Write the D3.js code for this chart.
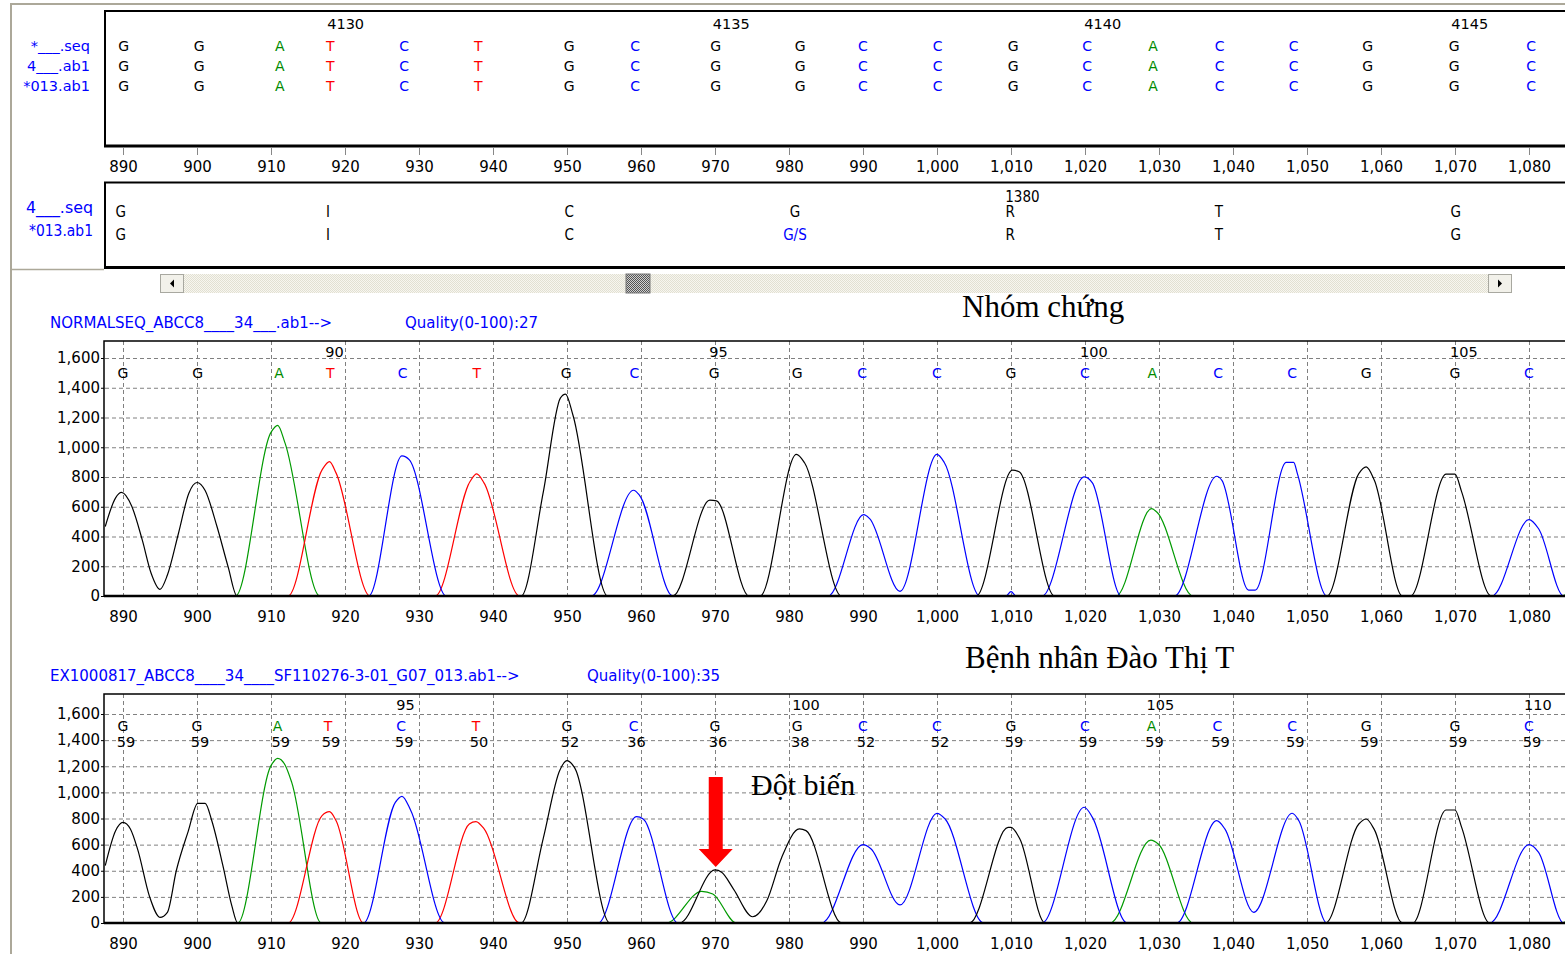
<!DOCTYPE html>
<html>
<head>
<meta charset="utf-8">
<script src="https://cdn.jsdelivr.net/npm/d3@7"></script>
<style>
  html, body { margin: 0; padding: 0; background: #fff; }
  svg { display: block; }
</style>
</head>
<body>
<svg id="chart" width="1565" height="954" font-family="'DejaVu Sans', Verdana, sans-serif"></svg>
<script>
// scan axis ticks
const scanTicks = [890, 900, 910, 920, 930, 940, 950, 960, 970, 980, 990,
  1000, 1010, 1020, 1030, 1040, 1050, 1060, 1070, 1080]
// signal axis ticks
const signalTicks = [0, 200, 400, 600, 800, 1000, 1200, 1400, 1600]

// called bases (same for all three sequences shown)
const bases = ['G', 'G', 'A', 'T', 'C', 'T', 'G', 'C', 'G', 'G',
  'C', 'C', 'G', 'C', 'A', 'C', 'C', 'G', 'G', 'C']

// top alignment panel
const topRowLabels = ['*___.seq', '4___.ab1', '*013.ab1']
const topCallPos = [890.1, 900.3, 911.2, 918, 928, 938, 950.3, 959.2, 970.1, 981.5,
  990, 1000.1, 1010.3, 1020.3, 1029.2, 1038.2, 1048.2, 1058.2, 1069.9, 1080.3]
const topNumbers = [4130, 4135, 4140, 4145]
const topNumberIdx = [3, 8, 13, 18]

// middle alignment panel
const midRowLabels = ['4___.seq', '*013.ab1']
const midPos = [889.7, 917.7, 950.3, 980.8, 1009.9, 1038.1, 1070.1]
const midRow1 = ['G', 'I', 'C', 'G', 'R', 'T', 'G']
const midRow2 = ['G', 'I', 'C', 'G/S', 'R', 'T', 'G']
const midNumber = 1380
const midNumberIdx = 4

// chromatogram 1 : control
const normHeader = 'NORMALSEQ_ABCC8____34___.ab1-->'
const normQuality = 'Quality(0-100):27'
const normTitle = 'Nhóm chứng'
const normCallPos = [890, 900.1, 911.1, 918, 927.8, 937.8, 949.9, 959.1, 969.9, 981.1,
  989.9, 1000, 1010, 1020, 1029.1, 1038, 1048, 1058, 1070, 1080]
const normNumbers = [90, 95, 100, 105]
const normNumberIdx = [3, 8, 13, 18]
const normG = [[887.6, 467], [889, 660], [889.8, 696], [891.2, 601], [892.6, 377], [893.8, 153],
  [895, 45], [896, 141], [897.5, 422], [898.9, 691], [900, 763], [901.1, 709], [902.7, 467],
  [904.2, 197], [905.4, 0], [943.8, 0], [946.8, 700], [949.1, 1330], [949.8, 1357],
  [950.8, 1217], [955.5, 0], [964.3, 0], [969.3, 644], [970.2, 639], [974.6, 0], [976.1, 0],
  [981, 952], [982.1, 896], [987.1, 0], [1005.3, 0], [1010.2, 846], [1011.1, 835],
  [1015.9, 0], [1052.7, 0], [1057, 823], [1058, 868], [1059.1, 778], [1062.9, 0], [1064, 0],
  [1068.8, 819], [1070, 819], [1070.9, 700], [1074.9, 0], [1086, 0]]
const normA = [[887.6, 0], [905.2, 0], [910, 1100], [910.9, 1147], [911.9, 1028], [916.6, 0],
  [1024.2, 0], [1029, 587], [1029.7, 565], [1034.6, 0], [1084.4, 0], [1086, 50]]
const normT = [[887.6, 0], [912.3, 0], [916.9, 848], [917.9, 904], [918.8, 826], [923.4, 0],
  [932.2, 0], [936.9, 770], [937.8, 821], [938.8, 759], [943.6, 0], [1086, 0]]
const normC = [[887.6, 0], [923.2, 0], [927.7, 942], [928.7, 915], [933.7, 0], [953.3, 0],
  [959, 711], [959.8, 677], [964.3, 0], [985.3, 0], [990.1, 547], [990.9, 520], [995, 31],
  [1000, 952], [1001, 896], [1005.8, 0], [1009.3, 0], [1010, 30], [1010.7, 0], [1014.2, 0],
  [1019.9, 801], [1021, 760], [1024.9, 0], [1032.1, 0], [1037.8, 805], [1038.5, 778],
  [1042.1, 40], [1043, 40], [1047.2, 898], [1048.2, 898], [1048.7, 823], [1052.7, 0],
  [1075, 0], [1080, 513], [1081.3, 452], [1084.7, 0], [1086, 0]]

// chromatogram 2 : patient
const patHeader = 'EX1000817_ABCC8____34____SF110276-3-01_G07_013.ab1-->'
const patQuality = 'Quality(0-100):35'
const patTitle = 'Bệnh nhân Đào Thị T'
const mutationLabel = 'Đột biến'
const mutationPos = 970.1
const patCallPos = [890, 900, 910.9, 917.7, 927.6, 937.7, 950, 959, 970, 981.1,
  990, 1000, 1010, 1020, 1029, 1037.9, 1048, 1058, 1070, 1080]
const patQual = [59, 59, 59, 59, 59, 50, 52, 36, 36, 38, 52, 52, 59, 59, 59, 59, 59, 59, 59, 59]
const patNumbers = [95, 100, 105, 110]
const patNumberIdx = [4, 9, 14, 19]
const patG = [[887.6, 439], [889, 707], [890, 771], [891, 720], [892, 560], [893.6, 200],
  [895, 43], [896, 82], [897.2, 400], [898.8, 700], [900.1, 916], [901.1, 916], [902, 783],
  [903.5, 439], [904.7, 133], [905.5, 0], [943.8, 0], [946.8, 650], [949, 1166], [950, 1243],
  [951, 1192], [955.8, 0], [965.2, 0], [970, 406], [970.9, 388], [972.5, 260], [975.1, 48],
  [977, 170], [979, 500], [981.4, 720], [982.3, 707], [987.1, 0], [1004.4, 0], [1009.6, 732],
  [1010, 732], [1011.2, 643], [1014.6, 0], [1052.5, 0], [1057, 758], [1058, 796],
  [1059.1, 715], [1062.9, 0], [1064.3, 0], [1068.8, 865], [1070, 865], [1070.9, 732],
  [1074.7, 0], [1086, 0]]
const patA = [[887.6, 0], [905.5, 0], [910, 1205], [910.9, 1261], [911.9, 1210], [912.8, 1077],
  [916.8, 0], [963.4, 0], [968.2, 242], [969.7, 222], [972.9, 0], [1023.4, 0], [1028.9, 635],
  [1029.9, 605], [1034.6, 0], [1084.3, 0], [1086, 50]]
const patT = [[887.6, 0], [912.3, 0], [916.9, 822], [917.9, 852], [918.8, 783], [922.5, 0],
  [932.2, 0], [936.8, 758], [937.7, 776], [938.8, 720], [943.6, 0], [1086, 0]]
const patC = [[887.6, 0], [922.5, 0], [926.8, 924], [927.7, 970], [928.9, 860], [933.5, 0],
  [954.2, 0], [959.4, 814], [960.3, 796], [965, 0], [984.4, 0], [990, 600], [991.1, 567],
  [995, 138], [1000, 840], [1001.1, 796], [1006.3, 0], [1014.2, 0], [1019.9, 886],
  [1021, 809], [1025.7, 0], [1032.4, 0], [1037.8, 783], [1038.9, 720], [1042.8, 82],
  [1048, 840], [1048.9, 783], [1052.7, 0], [1074.7, 0], [1080, 600], [1081.3, 541],
  [1084.7, 0], [1086, 0]]

function makeChart() {
  const svg = d3.select('#chart')
  const W = 1565
  const H = 954
  const blue = '#0000ff'
  const frame = '#aca899'
  const sans = "'DejaVu Sans', Verdana, sans-serif"
  const serif = "'Liberation Serif', 'Times New Roman', 'DejaVu Serif', serif"
  const narrow = "'Liberation Sans Narrow', 'DejaVu Sans Condensed', 'Liberation Sans', sans-serif"
  const baseColor = { G: '#000000', A: '#008a00', T: '#ff0000', C: '#0000ff' }
  const traceColor = { G: '#000000', A: '#009a00', T: '#ff0000', C: '#0000ff' }

  // shared scan scale
  const x = d3.scaleLinear().domain([890, 1080]).range([123, 1529])

  const defs = svg.append('defs')
  defs.append('clipPath').attr('id', 'plotclip')
    .append('rect').attr('x', 105).attr('y', 0).attr('width', W - 105).attr('height', H)

  // dithered scrollbar patterns
  const track = defs.append('pattern').attr('id', 'track')
    .attr('width', 2).attr('height', 2).attr('patternUnits', 'userSpaceOnUse')
  track.append('rect').attr('width', 2).attr('height', 2).attr('fill', '#f7f6f0')
  track.append('rect').attr('width', 1).attr('height', 1).attr('fill', '#e2e0d2')
  track.append('rect').attr('x', 1).attr('y', 1).attr('width', 1).attr('height', 1).attr('fill', '#e2e0d2')
  const thumb = defs.append('pattern').attr('id', 'thumb')
    .attr('width', 2).attr('height', 2).attr('patternUnits', 'userSpaceOnUse')
  thumb.append('rect').attr('width', 2).attr('height', 2).attr('fill', '#d0d0d0')
  thumb.append('rect').attr('width', 1).attr('height', 1).attr('fill', '#555')
  thumb.append('rect').attr('x', 1).attr('y', 1).attr('width', 1).attr('height', 1).attr('fill', '#555')

  // window frame
  svg.append('line').attr('x1', 11).attr('x2', 11).attr('y1', 3).attr('y2', H)
    .attr('stroke', frame).attr('stroke-width', 2)
  svg.append('line').attr('x1', 10).attr('x2', W).attr('y1', 4).attr('y2', 4)
    .attr('stroke', frame).attr('stroke-width', 2)

  // ---------- top alignment panel ----------
  const top = svg.append('g')
  top.append('path')
    .attr('d', `M${W},11 H105 V146`)
    .attr('fill', 'none').attr('stroke', '#000').attr('stroke-width', 2)
  top.append('line').attr('x1', 104).attr('x2', W).attr('y1', 146).attr('y2', 146)
    .attr('stroke', '#000').attr('stroke-width', 3)

  top.selectAll('.rowlab').data(topRowLabels).join('text')
    .attr('x', 90).attr('y', (d, i) => 46 + i * 20)
    .attr('text-anchor', 'end').attr('dominant-baseline', 'central')
    .attr('font-size', 14.5).attr('fill', blue)
    .text(d => d)

  topRowLabels.forEach((r, ri) => {
    top.selectAll('.b' + ri).data(bases).join('text')
      .attr('x', (d, i) => x(topCallPos[i])).attr('y', 46 + ri * 20)
      .attr('text-anchor', 'middle').attr('dominant-baseline', 'central')
      .attr('font-size', 14).attr('fill', d => baseColor[d])
      .text(d => d)
  })

  top.selectAll('.num').data(topNumbers).join('text')
    .attr('x', (d, i) => x(topCallPos[topNumberIdx[i]]) - 3).attr('y', 24)
    .attr('dominant-baseline', 'central').attr('font-size', 14.5)
    .text(d => d)

  const topAxis = svg.append('g').attr('transform', 'translate(0,148)')
    .call(d3.axisBottom(x).tickValues(scanTicks).tickFormat(d3.format(',')).tickSize(7).tickPadding(6))
  topAxis.select('.domain').remove()
  topAxis.selectAll('line').attr('stroke', '#888')
  topAxis.selectAll('text').attr('font-size', 15).attr('fill', '#000').attr('font-family', sans)

  // ---------- middle alignment panel ----------
  const mid = svg.append('g')
  mid.append('line').attr('x1', 104).attr('x2', W).attr('y1', 182.5).attr('y2', 182.5)
    .attr('stroke', '#000').attr('stroke-width', 2)
  mid.append('line').attr('x1', 105).attr('x2', 105).attr('y1', 182).attr('y2', 268)
    .attr('stroke', '#000').attr('stroke-width', 2)
  mid.append('line').attr('x1', 104).attr('x2', W).attr('y1', 267.5).attr('y2', 267.5)
    .attr('stroke', '#000').attr('stroke-width', 3)
  mid.append('line').attr('x1', 11).attr('x2', 104).attr('y1', 269.5).attr('y2', 269.5)
    .attr('stroke', frame).attr('stroke-width', 1.5)

  mid.selectAll('.rowlab').data(midRowLabels).join('text')
    .attr('x', 93).attr('y', (d, i) => 208 + i * 23)
    .attr('text-anchor', 'end').attr('dominant-baseline', 'central')
    .attr('font-size', 15).attr('fill', blue).attr('font-family', narrow)
    .attr('textLength', (d, i) => i === 0 ? 67 : 64).attr('lengthAdjust', 'spacingAndGlyphs')
    .text(d => d)
  ;[midRow1, midRow2].forEach((row, ri) => {
    mid.selectAll('.m' + ri).data(row).join('text')
      .attr('x', (d, i) => x(midPos[i])).attr('y', 212 + ri * 23)
      .attr('text-anchor', 'middle').attr('dominant-baseline', 'central')
      .attr('font-size', 15).attr('font-family', narrow)
      .attr('fill', d => d === 'G/S' ? blue : '#000')
      .text(d => d)
  })
  mid.append('text')
    .attr('x', x(midPos[midNumberIdx]) - 5).attr('y', 197)
    .attr('dominant-baseline', 'central').attr('font-size', 15).attr('font-family', narrow)
    .text(midNumber)

  // scrollbar
  const sb = svg.append('g')
  sb.append('rect').attr('x', 160).attr('y', 274).attr('width', 1350).attr('height', 19)
    .attr('fill', 'url(#track)')
  sb.append('rect').attr('x', 626).attr('y', 274).attr('width', 24).attr('height', 19)
    .attr('fill', 'url(#thumb)').attr('stroke', '#777').attr('stroke-width', 1)
  ;[[160, -1], [1488, 1]].forEach(([bx, dir]) => {
    sb.append('rect').attr('x', bx + 0.5).attr('y', 274.5).attr('width', 23).attr('height', 18)
      .attr('fill', '#f2f1ea').attr('stroke', '#a8a8a0')
    const cx = bx + 12
    sb.append('path')
      .attr('d', dir < 0 ? `M${cx - 2},283.5 L${cx + 2},279.5 L${cx + 2},287.5 Z`
                         : `M${cx + 2},283.5 L${cx - 2},279.5 L${cx - 2},287.5 Z`)
      .attr('fill', '#000')
  })

  // ---------- chromatograms ----------
  function drawChromatogram(o) {
    const g = svg.append('g')
    const y = d3.scaleLinear().domain([0, 1600]).range([o.zeroY, o.topTickY])

    g.append('text').attr('x', 50).attr('y', o.headerY)
      .attr('dominant-baseline', 'central').attr('font-size', 15).attr('fill', blue)
      .text(o.header)
    g.append('text').attr('x', o.qualityX).attr('y', o.headerY)
      .attr('dominant-baseline', 'central').attr('font-size', 15).attr('fill', blue)
      .text(o.quality)
    g.append('text').attr('x', o.titleX).attr('y', o.titleY)
      .attr('font-family', serif).attr('font-size', 31).attr('fill', '#000')
      .text(o.title)

    // dashed grid
    g.selectAll('.hg').data(signalTicks.slice(1)).join('line')
      .attr('x1', 105).attr('x2', W).attr('y1', d => y(d) + 0.5).attr('y2', d => y(d) + 0.5)
      .attr('stroke', '#808080').attr('stroke-dasharray', '4,3')
    g.selectAll('.vg').data(scanTicks).join('line')
      .attr('x1', d => Math.round(x(d)) + 0.5).attr('x2', d => Math.round(x(d)) + 0.5)
      .attr('y1', o.boxTop).attr('y2', o.zeroY)
      .attr('stroke', '#808080').attr('stroke-dasharray', '4,3')

    // frame
    g.append('path').attr('d', `M${W},${o.boxTop} H104 V${o.zeroY + 1}`)
      .attr('fill', 'none').attr('stroke', '#000').attr('stroke-width', 1.5)

    // y axis
    const ya = g.append('g').attr('transform', 'translate(104,0)')
      .call(d3.axisLeft(y).tickValues(signalTicks).tickFormat(d3.format(',')).tickSize(3).tickPadding(1))
    ya.select('.domain').remove()
    ya.selectAll('text').attr('font-size', 15).attr('fill', '#000').attr('font-family', sans)

    // x axis labels
    const xa = g.append('g').attr('transform', `translate(0,${o.zeroY})`)
      .call(d3.axisBottom(x).tickValues(scanTicks).tickFormat(d3.format(',')).tickSize(0).tickPadding(15))
    xa.select('.domain').remove()
    xa.selectAll('text').attr('font-size', 15).attr('fill', '#000').attr('font-family', sans)

    // traces
    const line = d3.line().x(d => x(d[0])).y(d => y(d[1])).curve(d3.curveMonotoneX)
    const traces = g.append('g').attr('clip-path', 'url(#plotclip)')
    ;['A', 'T', 'C', 'G'].forEach(b => {
      traces.append('path').datum(o.traces[b])
        .attr('d', line).attr('fill', 'none')
        .attr('stroke', traceColor[b]).attr('stroke-width', 1.2)
    })
    // thick baseline
    g.append('line').attr('x1', 104).attr('x2', W).attr('y1', o.zeroY).attr('y2', o.zeroY)
      .attr('stroke', '#000').attr('stroke-width', 2.5)

    // base calls and numbering
    g.selectAll('.call').data(bases).join('text')
      .attr('x', (d, i) => x(o.callPos[i])).attr('y', o.callY)
      .attr('text-anchor', 'middle').attr('dominant-baseline', 'central')
      .attr('font-size', 14).attr('fill', d => baseColor[d])
      .text(d => d)
    g.selectAll('.num').data(o.numbers).join('text')
      .attr('x', (d, i) => x(o.callPos[o.numberIdx[i]]) - 5).attr('y', o.numberY)
      .attr('dominant-baseline', 'central').attr('font-size', 14.5)
      .text(d => d)
    if (o.qual) {
      g.selectAll('.q').data(o.qual).join('text')
        .attr('x', (d, i) => x(o.callPos[i]) + 3).attr('y', o.qualY)
        .attr('text-anchor', 'middle').attr('dominant-baseline', 'central')
        .attr('font-size', 14.5).attr('fill', '#000')
        .text(d => d)
    }
    return { g, y }
  }

  drawChromatogram({
    header: normHeader, quality: normQuality, qualityX: 405, headerY: 323,
    title: normTitle, titleX: 962, titleY: 317,
    boxTop: 341, zeroY: 596, topTickY: 358,
    traces: { G: normG, A: normA, T: normT, C: normC },
    callPos: normCallPos, callY: 373, numbers: normNumbers, numberIdx: normNumberIdx, numberY: 352
  })

  const pat = drawChromatogram({
    header: patHeader, quality: patQuality, qualityX: 587, headerY: 676,
    title: patTitle, titleX: 965, titleY: 668,
    boxTop: 694, zeroY: 923, topTickY: 714,
    traces: { G: patG, A: patA, T: patT, C: patC },
    callPos: patCallPos, callY: 726, numbers: patNumbers, numberIdx: patNumberIdx, numberY: 705,
    qual: patQual, qualY: 742
  })

  // mutation arrow
  const ax = x(mutationPos)
  pat.g.append('path')
    .attr('d', `M${ax - 7},777 H${ax + 7} V849 H${ax + 17} L${ax},867 L${ax - 17},849 H${ax - 7} Z`)
    .attr('fill', '#ff0000')
  pat.g.append('text').attr('x', 751).attr('y', 795)
    .attr('font-family', serif).attr('font-size', 30).attr('fill', '#000')
    .text(mutationLabel)
}

window.onload = makeChart
</script>
</body>
</html>
